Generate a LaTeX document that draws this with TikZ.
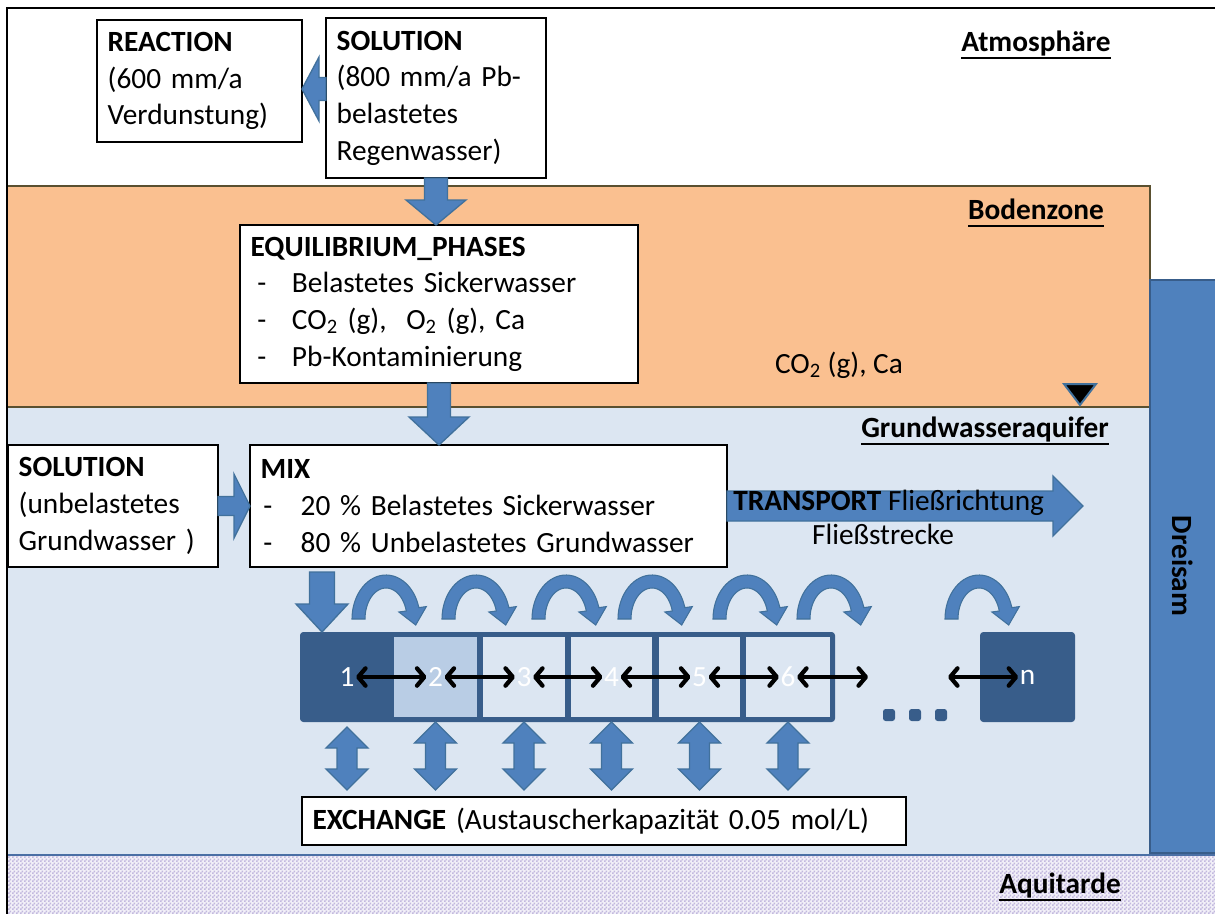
\documentclass[tikz,border=0pt]{standalone}
\usepackage{fontspec}
\setmainfont{Carlito}
\usetikzlibrary{arrows.meta,calc,patterns}
\definecolor{orng}{HTML}{FAC090}
\definecolor{olivb}{HTML}{5A5030}
\definecolor{aqui}{HTML}{DCE6F2}
\definecolor{blk}{HTML}{4F81BD}
\definecolor{blkd}{HTML}{41719C}
\definecolor{celldark}{HTML}{385D8A}
\definecolor{celllight}{HTML}{B9CDE5}
\definecolor{aqline}{HTML}{4A6FA5}
\definecolor{aqpat}{HTML}{C2B8DE}
\definecolor{aqbase}{HTML}{F2F0F8}
\pgfdeclarepatternformonly{finecheck}{\pgfqpoint{0pt}{0pt}}{\pgfqpoint{3pt}{3pt}}{\pgfqpoint{3pt}{3pt}}{%
 \pgfpathrectangle{\pgfqpoint{0pt}{0pt}}{\pgfqpoint{1.5pt}{1.5pt}}%
 \pgfpathrectangle{\pgfqpoint{1.5pt}{1.5pt}}{\pgfqpoint{1.5pt}{1.5pt}}%
 \pgfusepath{fill}}
\newcommand{\itmA}{\hspace*{5pt}\makebox[26pt][l]{-}}
\newcommand{\itmB}{\hspace*{2pt}\makebox[28pt][l]{-}}
\newcommand{\ulb}[1]{\vtop{\hbox{\raisebox{0pt}[\height][0pt]{#1}}\kern3.5pt\hrule height 1.5pt}}
% #1 start, #2 tip, #3 shaft half, #4 head half, #5 head length
\newcommand{\blockdown}[5]{\filldraw[blockarrow] let \p1=#1, \p2=#2 in
 ({\x1-#3},{\y1}) -- ({\x1+#3},{\y1}) -- ({\x1+#3},{\y2+#5}) -- ({\x1+#4},{\y2+#5}) -- ({\x1},{\y2})
 -- ({\x1-#4},{\y2+#5}) -- ({\x1-#3},{\y2+#5}) -- cycle;}
\newcommand{\blockh}[5]{\filldraw[blockarrow] let \p1=#1, \p2=#2 in
 ({\x1},{\y1-#3}) -- ({\x1},{\y1+#3}) -- ({\x2-(#5)},{\y1+#3}) -- ({\x2-(#5)},{\y1+#4}) -- ({\x2},{\y1})
 -- ({\x2-(#5)},{\y1-#4}) -- ({\x2-(#5)},{\y1-#3}) -- cycle;}
\newcommand{\blockud}[2]{\filldraw[blockarrow] let \p1=#1, \p2=#2 in
 ({\x1},{\y1}) -- ({\x1+15.75pt},{\y1-15.75pt}) -- ({\x1+7.5pt},{\y1-15.75pt}) -- ({\x1+7.5pt},{\y2+15.75pt})
 -- ({\x1+15.75pt},{\y2+15.75pt}) -- ({\x1},{\y2}) -- ({\x1-15.75pt},{\y2+15.75pt}) -- ({\x1-7.5pt},{\y2+15.75pt})
 -- ({\x1-7.5pt},{\y1-15.75pt}) -- ({\x1-15.75pt},{\y1-15.75pt}) -- cycle;}
\tikzset{
 every node/.style={font=\fontsize{22}{27.5}\selectfont},
 boxst/.style={draw=black, line width=2pt, fill=white, align=left, inner xsep=8pt, inner ysep=0pt, outer sep=0pt},
 lbl/.style={font=\fontsize{22}{27.5}\selectfont\bfseries, inner sep=0pt},
 blockarrow/.style={fill=blk, draw=blkd, line width=1pt},
 hopst/.style={fill=blk, draw=blkd, line width=0.8pt},
 cellst/.style={inner sep=0pt, outer sep=0pt, minimum height=60pt},
 num/.style={text=white, font=\fontsize{22}{26}\selectfont, inner sep=1pt},
 dotst/.style={fill=celldark, rounded corners=2pt, minimum size=9pt, inner sep=0pt},
 dbl/.style={black, line width=3.2pt, arrows={Straight Barb[length=5.5pt,width=13pt,round]-Straight Barb[length=5.5pt,width=13pt,round]}},
 hop/.pic={
  \filldraw[hopst] (-34,0) -- plot[domain=180:345, samples=30] ({34*cos(\x)},{44*sin(\x)})
   -- (40.3,-12.4) -- (29.7,6.0) -- (12.9,-7.0)
   -- plot[domain=0:165, samples=30] ({21*cos(345-\x)},{31*sin(345-\x)}) -- cycle;
 }
}
\begin{document}
\begin{tikzpicture}[x=0.75pt,y=-0.75pt]
\useasboundingbox (0,0) rectangle (1215,914);
\fill[white] (0,0) rectangle (1215,914);
% layers
\fill[aqui] (7,407) rectangle (1150,855);
\fill[orng] (7,186) rectangle (1150,407);
\draw[olivb, line width=2pt] (7,186) -- (1150,186) -- (1150,407);
\draw[olivb, line width=2pt] (7,407) -- (1150,407);
\fill[aqbase] (7,855) rectangle (1215,914);
\fill[pattern=finecheck, pattern color=aqpat] (7,855) rectangle (1215,914);
\draw[aqline, line width=2pt] (7,855) -- (1215,855);
\filldraw[fill=blk, draw=celldark, line width=2pt] (1150,280) rectangle (1218,853);
% frame
\draw[black, line width=1.5pt] (7,914) -- (7,8) -- (1215,8);
% labels
\node[lbl] (atm) at (1036,45) {\ulb{Atmosphäre}};
\node[lbl] (boden) at (1036,213) {\ulb{Bodenzone}};
\node[lbl] (gw) at (985,431) {\ulb{Grundwasseraquifer}};
\node[lbl] (aqt) at (1060,887) {\ulb{Aquitarde}};
\node[lbl, rotate=-90] (dre) at (1183,566) {Dreisam};
\node[inner sep=0pt] (co2) at (839,365) {CO\textsubscript{2} (g), Ca};
\filldraw[fill=black, draw=blkd, line width=1.5pt] (1064,384) -- (1096,384) -- (1080,405) -- cycle;
% boxes
\node[boxst, text width=137.75pt, minimum height=91.5pt] (reac) at (199.5,81)
 {\textbf{REACTION}\\(600 mm/a\\Verdunstung)};
\node[boxst, text width=149pt, minimum height=120pt] (sol1) at (436,98)
 {\textbf{SOLUTION}\\(800 mm/a Pb-\\belastetes\\Regenwasser)};
\node[boxst, text width=282.5pt, minimum height=118.5pt] (eq) at (439,304)
 {\textbf{EQUILIBRIUM\_PHASES}\\\itmA Belastetes Sickerwasser\\\itmA CO\textsubscript{2} (g),\ \ O\textsubscript{2} (g), Ca\\\itmA Pb-Kontaminierung};
\node[boxst, text width=141.5pt, minimum height=91.5pt] (sol2) at (113,506)
 {\textbf{SOLUTION}\\(unbelastetes\\Grundwasser )};
\node[boxst, text width=341.75pt, minimum height=91.5pt] (mix) at (488.5,506)
 {\textbf{MIX}\\\itmB\mbox{20 \% Belastetes Sickerwasser}\\\itmB\mbox{80 \% Unbelastetes Grundwasser}};
\node[boxst, text width=437pt, minimum height=36pt] (exch) at (604,821)
 {\mbox{\textbf{EXCHANGE} (Austauscherkapazität 0.05 mol/L)}};
% block arrows between boxes
\blockh{($(sol1.west)+(0,-9)$)}{(reac.east)}{8.6pt}{24pt}{-12.75pt}
\blockdown{(sol1.south)}{(eq.north)}{8.6pt}{22.5pt}{18.75pt}
\blockdown{(eq.south)}{(mix.north)}{8.6pt}{22.5pt}{21pt}
\blockh{(sol2.east)}{(mix.west)}{7.1pt}{24pt}{12pt}
\coordinate (trtip) at (1083,505);
\blockh{(mix.east)}{(trtip)}{11.25pt}{22.5pt}{22.5pt}
\node[anchor=west, inner sep=0pt] (trl) at (733,503) {\textbf{TRANSPORT} Fließrichtung};
\node[inner sep=0pt] (fs) at (883,534) {Fließstrecke};
% cells
\fill[celldark, rounded corners=2.5pt] (300,632) rectangle (835,722);
\node[cellst, minimum width=70.5pt, minimum height=67.5pt] (c1) at (347,677) {};
\node[cellst, fill=celllight, minimum width=62.25pt] (c2) at (435.5,677) {};
\node[cellst, fill=aqui, minimum width=61.5pt] (c3) at (524,677) {};
\node[cellst, fill=aqui, minimum width=60.75pt] (c4) at (611.5,677) {};
\node[cellst, fill=aqui, minimum width=60.75pt] (c5) at (699.5,677) {};
\node[cellst, fill=aqui, minimum width=63pt] (c6) at (788,677) {};
\node[cellst, fill=celldark, rounded corners=2.5pt, minimum width=71.25pt, minimum height=67.5pt] (cn) at (1027.5,677) {};
\node[num] (n1) at (c1) {1};
\node[num] (n2) at (c2) {2};
\node[num] (n3) at (c3) {3};
\node[num] (n4) at (c4) {4};
\node[num] (n5) at (c5) {5};
\node[num] (n6) at (c6) {6};
\node[num] (nn) at (cn) {n};
\coordinate (e6) at (868,677);
\coordinate (sn) at (948,677);
\draw[dbl] (n1) -- (n2);
\draw[dbl] (n2) -- (n3);
\draw[dbl] (n3) -- (n4);
\draw[dbl] (n4) -- (n5);
\draw[dbl] (n5) -- (n6);
\draw[dbl] (n6) -- (e6);
\draw[dbl] (sn) -- (nn);
\node[dotst] (d1) at (889,715) {};
\node[dotst] (d2) at (915,715) {};
\node[dotst] (d3) at (941,715) {};
% inflow into cell 1
\coordinate (in1) at ($(c1.north west)+(22,0)$);
\blockdown{($(mix.south -| in1)+(0,5)$)}{(in1)}{9.4pt}{19.5pt}{21pt}
% hops
\foreach \hx in {386,476,566,652,747,831,979} {\pic at (\hx,619) {hop};}
% exchange arrows
\foreach \c in {c1,c2,c3,c4,c5,c6} {\blockud{($(\c.south)+(0,5)$)}{($(exch.north)+(0,-7)$)}}
\end{tikzpicture}
\end{document}
